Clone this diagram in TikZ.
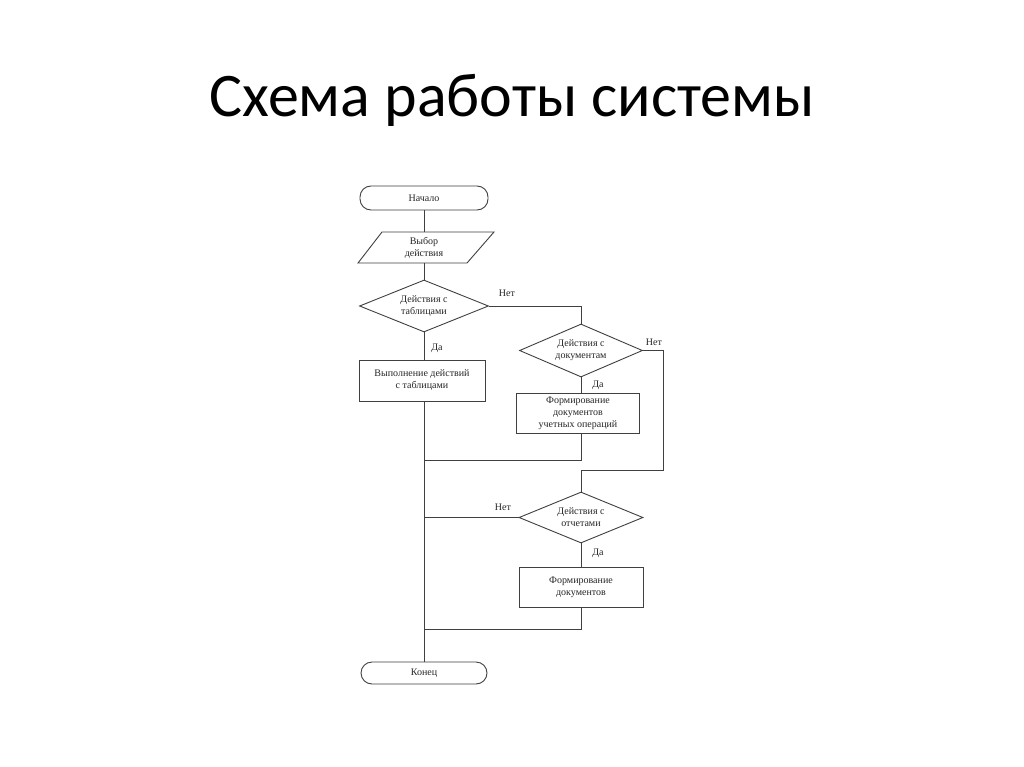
\documentclass[tikz,border=0pt]{standalone}
\usepackage{fontspec}
\setmainfont{Liberation Serif}
\newfontfamily\titlefont{Carlito}
\usetikzlibrary{shapes.geometric}
\begin{document}
\begin{tikzpicture}[x=1pt,y=-1pt,
  every node/.style={font=\fontsize{10}{12}\selectfont, text=black!85},
  ln/.style={draw=black!75, line width=0.9pt},
  term/.style={ln, rectangle, rounded corners=11pt, inner sep=0pt},
  proc/.style={ln, rectangle, inner sep=0pt, align=center},
  dec/.style={ln, diamond, inner sep=0pt, align=center},
  lbl/.style={inner sep=0pt},
]
\fill[white] (0,0) rectangle (1024,767);
\useasboundingbox (0,0) rectangle (1024,767);

\node[font=\titlefont\fontsize{62}{70}\selectfont, anchor=base, text=black] (title) at (512,117) {Схема работы системы};

\node[term, minimum width=128pt, minimum height=24pt] (start) at (424,198) {Начало};
\node[minimum width=136pt, minimum height=31pt, inner sep=0pt, align=center] (sel) at (424,247.5) {Выбор\\действия};
\draw[ln, shift={(sel.center)}] (-42,-15.5) -- (70,-15.5) -- (43,15.5) -- (-66,15.5) -- cycle;
\node[dec, aspect=2.48, minimum width=129pt, minimum height=52pt] (d1) at (424,306) {Действия с\\таблицами};
\node[proc, minimum width=126pt, minimum height=41pt] (r1) at (422,380.5) {Выполнение действий\\с таблицами};
\node[dec, aspect=2.32, minimum width=123pt, minimum height=53pt] (d2) at (581,350.5) {Действия с\\документам};
\node[proc, minimum width=123pt, minimum height=40pt] (r2) at (578,413) {Формирование\\документов\\учетных операций};
\node[dec, aspect=2.43, minimum width=124pt, minimum height=51pt] (d3) at (581,517.5) {Действия с\\отчетами};
\node[proc, minimum width=124pt, minimum height=40pt] (r3) at (581,587) {Формирование\\документов};
\node[term, minimum width=126pt, minimum height=22pt] (end) at (424,673) {Конец};

\coordinate (c2) at (663,470);
\coordinate (j1) at (424,460);
\coordinate (j2) at (424,517.5);
\coordinate (j3) at (424,629);

\draw[ln] (start.south) -- (sel.north);
\draw[ln] (sel.south) -- (d1.north);
\draw[ln] (d1.south) -- (d1.south |- r1.north);
\draw[ln] (d1.east) -| (d2.north);
\draw[ln] (d2.south) -- (d2.south |- r2.north);
\draw[ln] (d2.east) -| (c2) -| (d3.north);
\draw[ln] (d2.south |- r2.south) |- (j1);
\draw[ln] (d1.south |- r1.south) -- (end.north);
\draw[ln] (d3.west) -- (j2);
\draw[ln] (d3.south) -- (r3.north);
\draw[ln] (r3.south) |- (j3);

\node[lbl] (no1) at (507,293) {Нет};
\node[lbl] (yes1) at (437,348) {Да};
\node[lbl] (no2) at (654,342) {Нет};
\node[lbl] (yes2) at (598,385) {Да};
\node[lbl] (no3) at (503,507) {Нет};
\node[lbl] (yes3) at (598,553) {Да};
\end{tikzpicture}
\end{document}
